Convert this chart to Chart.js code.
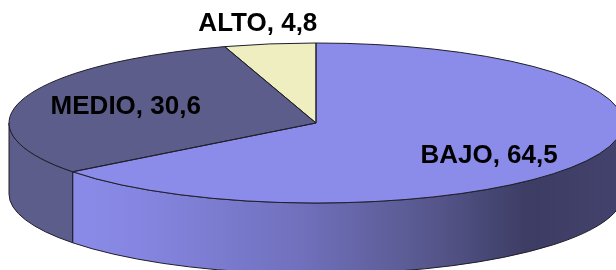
<!DOCTYPE html>
<html>
<head>
<meta charset="utf-8">
<script src="https://cdn.jsdelivr.net/npm/chart.js@4/dist/chart.umd.min.js"></script>
<style>
  html, body { margin: 0; padding: 0; background: #ffffff; }
  #wrap { width: 616px; height: 270px; position: relative; overflow: hidden; }
</style>
</head>
<body>
<div id="wrap"><canvas id="pieChart" width="616" height="270"></canvas></div>
<script>
// ---- data ----
const categories = ['BAJO', 'MEDIO', 'ALTO'];
const values = [64.5, 30.6, 4.8];
const valueLabels = ['64,5', '30,6', '4,8'];

// ---- look ----
const topColors = ['#8b8be9', '#5d5d8b', '#eeeec0'];
const sideColors = ['#8a8ae6', '#5d5d8b', '#d6d6a6'];
const labelRadius = [0.69, 0.65, 1.26];
const labelNudge = [[-17, 8], [0, 0], [0, 0]];

// ellipse geometry for the 3D look
const CX = 316, CY = 123, RX = 307, RY = 80, DEPTH = 71;

// visible front part of an arc (canvas angles, 0..PI is the front)
function frontRange(a0, a1) {
  for (let k = -1; k <= 1; k++) {
    const s = Math.max(a0 + k * 2 * Math.PI, 0);
    const e = Math.min(a1 + k * 2 * Math.PI, Math.PI);
    if (e > s) return [s, e];
  }
  return null;
}

const pie3d = {
  id: 'pie3d',
  beforeDatasetsDraw(chart) {
    const ctx = chart.ctx;
    const arcs = chart.getDatasetMeta(0).data;

    // side walls
    arcs.forEach((arc, i) => {
      const r = frontRange(arc.startAngle, arc.endAngle);
      if (!r) return;
      const [a0, a1] = r;
      ctx.save();
      ctx.beginPath();
      ctx.ellipse(CX, CY, RX, RY, 0, a0, a1, false);
      ctx.ellipse(CX, CY + DEPTH, RX, RY, 0, a1, a0, true);
      ctx.closePath();
      if (i === 0) {
        const g = ctx.createLinearGradient(72, 0, 616, 0);
        g.addColorStop(0, '#8a8ae8');
        g.addColorStop(0.12, '#8686e2');
        g.addColorStop(0.42, '#7070bd');
        g.addColorStop(0.65, '#58588f');
        g.addColorStop(0.84, '#3c3c64');
        g.addColorStop(1, '#42426c');
        ctx.fillStyle = g;
      } else {
        ctx.fillStyle = sideColors[i];
      }
      ctx.fill();
      ctx.strokeStyle = '#1e1e2a';
      ctx.lineWidth = 1;
      ctx.stroke();
      ctx.restore();
    });

    // squash the circular pie into the top ellipse
    const a = arcs[0];
    const R = a.outerRadius;
    ctx.save();
    ctx.translate(CX, CY);
    ctx.scale(RX / R, RY / R);
    ctx.translate(-a.x, -a.y);
  },
  afterDatasetsDraw(chart) {
    const ctx = chart.ctx;
    ctx.restore();
    const arcs = chart.getDatasetMeta(0).data;

    // slice outlines
    ctx.save();
    ctx.strokeStyle = '#1e1e2a';
    ctx.lineWidth = 1;
    arcs.forEach(arc => {
      ctx.beginPath();
      ctx.moveTo(CX, CY);
      ctx.ellipse(CX, CY, RX, RY, 0, arc.startAngle, arc.endAngle, false);
      ctx.closePath();
      ctx.stroke();
    });

    // labels
    ctx.fillStyle = '#000000';
    ctx.font = 'bold 26px "Liberation Sans", Arial, sans-serif';
    ctx.textAlign = 'center';
    ctx.textBaseline = 'middle';
    arcs.forEach((arc, i) => {
      const mid = (arc.startAngle + arc.endAngle) / 2;
      const x = CX + RX * labelRadius[i] * Math.cos(mid) + labelNudge[i][0];
      const y = CY + RY * labelRadius[i] * Math.sin(mid) + labelNudge[i][1];
      ctx.fillText(categories[i] + ', ' + valueLabels[i], x, y);
    });
    ctx.restore();
  }
};

new Chart(document.getElementById('pieChart'), {
  type: 'pie',
  data: {
    labels: categories,
    datasets: [{
      data: values,
      backgroundColor: topColors,
      borderWidth: 0,
      clip: false
    }]
  },
  options: {
    responsive: false,
    animation: false,
    devicePixelRatio: 1,
    layout: { padding: 0 },
    plugins: {
      legend: { display: false },
      tooltip: { enabled: false }
    }
  },
  plugins: [pie3d]
});
</script>
</body>
</html>
